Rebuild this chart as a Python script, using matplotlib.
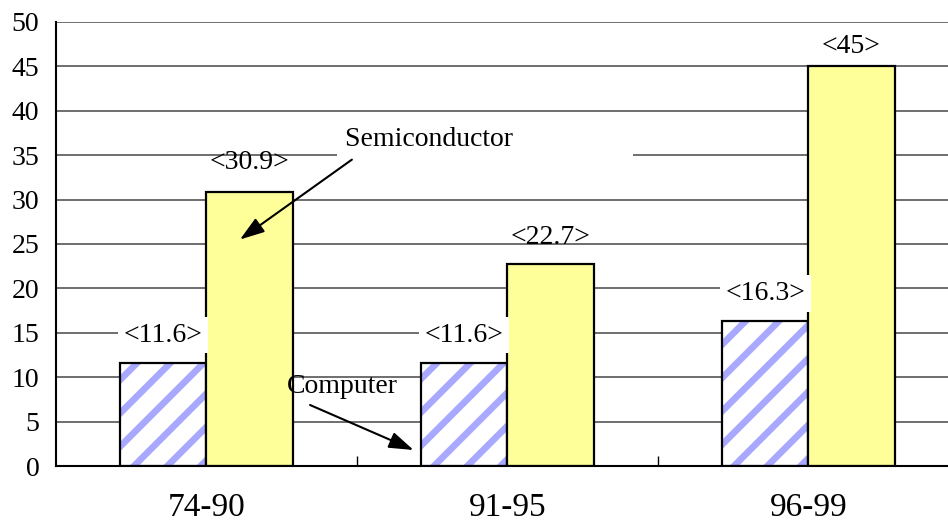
import matplotlib
matplotlib.use("Agg")
import matplotlib.pyplot as plt
import numpy as np

categories = ["74-90", "91-95", "96-99"]
computer = [11.6, 11.6, 16.3]
semiconductor = [30.9, 22.7, 45]
computer_labels = ["<11.6>", "<11.6>", "<16.3>"]
semi_labels = ["<30.9>", "<22.7>", "<45>"]
y_ticks = [0, 5, 10, 15, 20, 25, 30, 35, 40, 45, 50]

plt.rcParams['font.family'] = ['Liberation Serif', 'DejaVu Serif']
plt.rcParams['hatch.linewidth'] = 4.8

fig = plt.figure(figsize=(9.48, 5.24), dpi=100)
ax = fig.add_axes([56/948, 1-466/524, (959-56)/948, (466-22)/524])

x = np.arange(len(categories))
w = 0.286

# computer: hatched
ax.bar(x - w/2, computer, width=w, facecolor='white', edgecolor='#a8a8ff',
       hatch='/', linewidth=0, zorder=2)
ax.bar(x - w/2, computer, width=w, fill=False, edgecolor='black', linewidth=1.6, zorder=3)
ax.bar(x + w/2, semiconductor, width=w, facecolor='#ffff99', edgecolor='black',
       linewidth=1.6, zorder=3)

for xi, v, lab in zip(x, computer, computer_labels):
    ax.annotate(lab, xy=(xi - w/2, v), xytext=(0, 20), textcoords='offset points',
                ha='center', va='center', fontsize=20, zorder=4,
                bbox=dict(boxstyle='square,pad=0.2', facecolor='white', edgecolor='none'))
semi_off = [21, 19.5, 14]
for xi, v, lab, off in zip(x, semiconductor, semi_labels, semi_off):
    ax.annotate(lab, xy=(xi + w/2, v), xytext=(0, off), textcoords='offset points',
                ha='center', va='center', fontsize=20, zorder=4)

# annotations
ax.text(0.46, 36.8, "Semiconductor" + " " * 16, ha='left', va='center', fontsize=20,
        zorder=4, bbox=dict(boxstyle='square,pad=0.3', facecolor='white', edgecolor='none'))
ax.annotate('', xy=(0.111, 25.5), xytext=(0.483, 34.5),
            arrowprops=dict(arrowstyle='-|>,head_length=0.6,head_width=0.2',
                            mutation_scale=25, lw=1.5, color='black', shrinkA=0, shrinkB=0),
            zorder=5)
ax.text(0.453, 8.9, "Computer", ha='center', va='center', fontsize=20, zorder=4)
ax.annotate('', xy=(0.688, 1.8), xytext=(0.344, 6.87),
            arrowprops=dict(arrowstyle='-|>,head_length=0.6,head_width=0.2',
                            mutation_scale=25, lw=1.5, color='black', shrinkA=0, shrinkB=0),
            zorder=5)

ax.set_xlim(-0.5, len(categories) - 0.5)
ax.set_ylim(0, 50)
ax.set_yticks(y_ticks)
ax.set_yticklabels([str(t) for t in y_ticks], fontsize=20)
ax.set_xticks(x)
ax.set_xticklabels(categories, fontsize=24)
ax.set_xticks(x[:-1] + 0.5, minor=True)
ax.tick_params(axis='x', which='major', length=0, pad=19)
ax.tick_params(axis='x', which='minor', length=7, direction='in', width=1)
ax.tick_params(axis='y', length=0, pad=12)

ax.grid(axis='y', color='#555555', linewidth=1.2, zorder=0)
ax.set_axisbelow(True)
for s in ['top', 'right']:
    ax.spines[s].set_visible(False)
for s in ['left', 'bottom']:
    ax.spines[s].set_linewidth(1.5)
    ax.spines[s].set_zorder(6)

fig.savefig('out.png', dpi=100)
